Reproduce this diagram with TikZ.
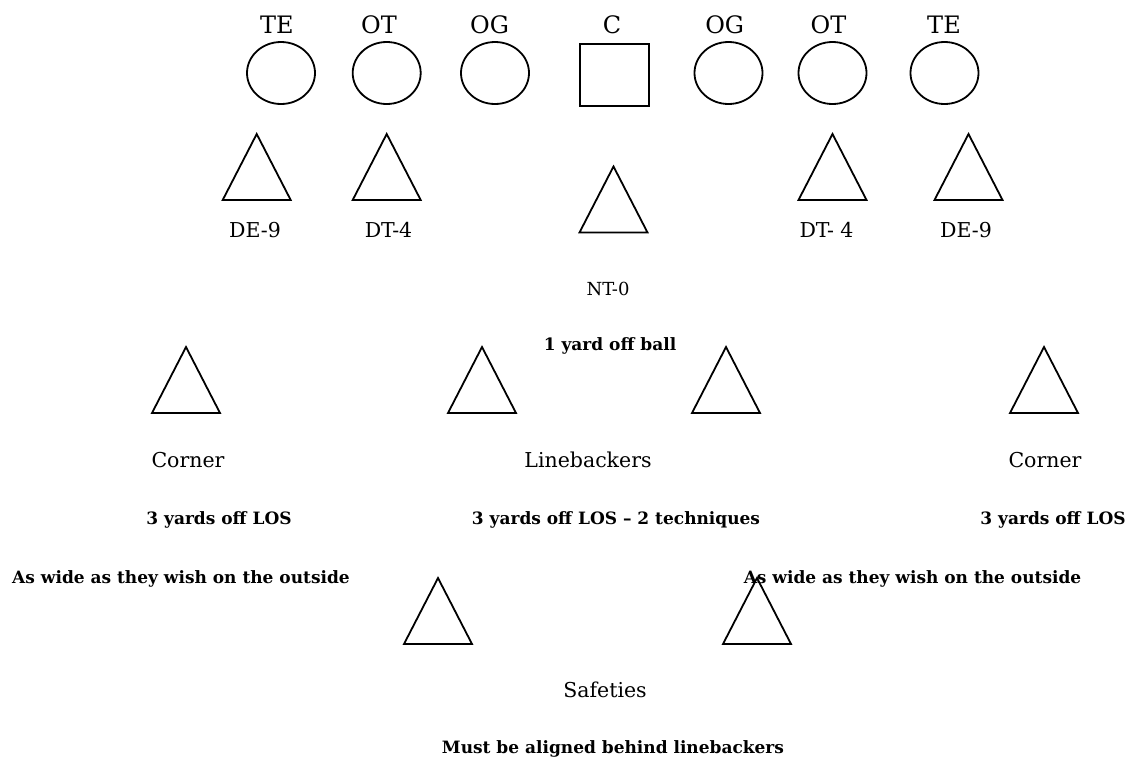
\documentclass[tikz,border=0pt]{standalone}
\usepackage{fontspec}
\setmainfont{DejaVu Serif}
\usetikzlibrary{shapes.geometric}
\tikzset{
  shp/.style={draw=black, line width=1.8pt},
  player/.style={shp, ellipse, minimum width=68pt, minimum height=62pt, inner sep=0pt},
  ctrbox/.style={shp, rectangle, minimum width=69pt, minimum height=62pt, inner sep=0pt},
  tri/.pic={\draw[shp, line join=miter] (0,0) -- (34,66) -- (-34,66) -- cycle;},
  postxt/.style={anchor=base, inner sep=0pt, font=\fontsize{24}{28}\selectfont},
  lbl/.style={anchor=base, inner sep=0pt, font=\fontsize{20.5}{24}\selectfont},
  sml/.style={anchor=base, inner sep=0pt, font=\fontsize{18}{22}\selectfont},
  note/.style={anchor=base, inner sep=0pt, font=\fontsize{17}{21}\selectfont\bfseries},
}
\begin{document}
\begin{tikzpicture}[x=1pt, y=-1pt]
\useasboundingbox (0,0) rectangle (1138,758);
% offensive line labels
\node[postxt] (tte1) at (277,33) {TE};
\node[postxt] (tot1) at (379,33) {OT};
\node[postxt] (tog1) at (489.5,33) {OG};
\node[postxt] (tc)   at (612,33) {C};
\node[postxt] (tog2) at (724.7,33) {OG};
\node[postxt] (tot2) at (828.5,33) {OT};
\node[postxt] (tte2) at (944,33) {TE};
% offensive line
\node[player] (te1) at (281,73) {};
\node[player] (ot1) at (386.7,73) {};
\node[player] (og1) at (495,73) {};
\node[ctrbox] (c)   at (614.7,75.3) {};
\node[player] (og2) at (728.5,73) {};
\node[player] (ot2) at (832.5,73) {};
\node[player] (te2) at (944.5,73) {};
% defensive line
\pic (de1) at (256.7,134) {tri};
\pic (dt1) at (386.7,134) {tri};
\pic (nt)  at (613.5,166.5) {tri};
\pic (dt2) at (832.5,134) {tri};
\pic (de2) at (968.5,134) {tri};
\node[lbl] (lde1) at (255,237) {DE-9};
\node[lbl] (ldt1) at (388.5,237) {DT-4};
\node[lbl] (ldt2) at (826.5,237) {DT- 4};
\node[lbl] (lde2) at (966,237) {DE-9};
\node[sml] (lnt) at (608,295) {NT-0};
\node[note] (nnt) at (610,350) {1 yard off ball};
% second level
\pic (cb1) at (186,347) {tri};
\pic (lb1) at (482,347) {tri};
\pic (lb2) at (726,347) {tri};
\pic (cb2) at (1044,347) {tri};
\node[lbl] (lcb1) at (188,467) {Corner};
\node[lbl] (llb)  at (588,467) {Linebackers};
\node[lbl] (lcb2) at (1045,467) {Corner};
\node[note] (ncb1) at (219,524) {3 yards off LOS};
\node[note] (nlb)  at (616,524) {3 yards off LOS – 2 techniques};
\node[note] (ncb2) at (1053,524) {3 yards off LOS};
\node[note] (wcb1) at (181,583) {As wide as they wish on the outside};
% safeties
\pic (s1) at (438,578) {tri};
\pic (s2) at (757,578) {tri};
\node[note] (wcb2) at (912.5,583) {As wide as they wish on the outside};
\node[lbl] (ls) at (605,697) {Safeties};
\node[note] (ns) at (613,753) {Must be aligned behind linebackers};
\end{tikzpicture}
\end{document}
